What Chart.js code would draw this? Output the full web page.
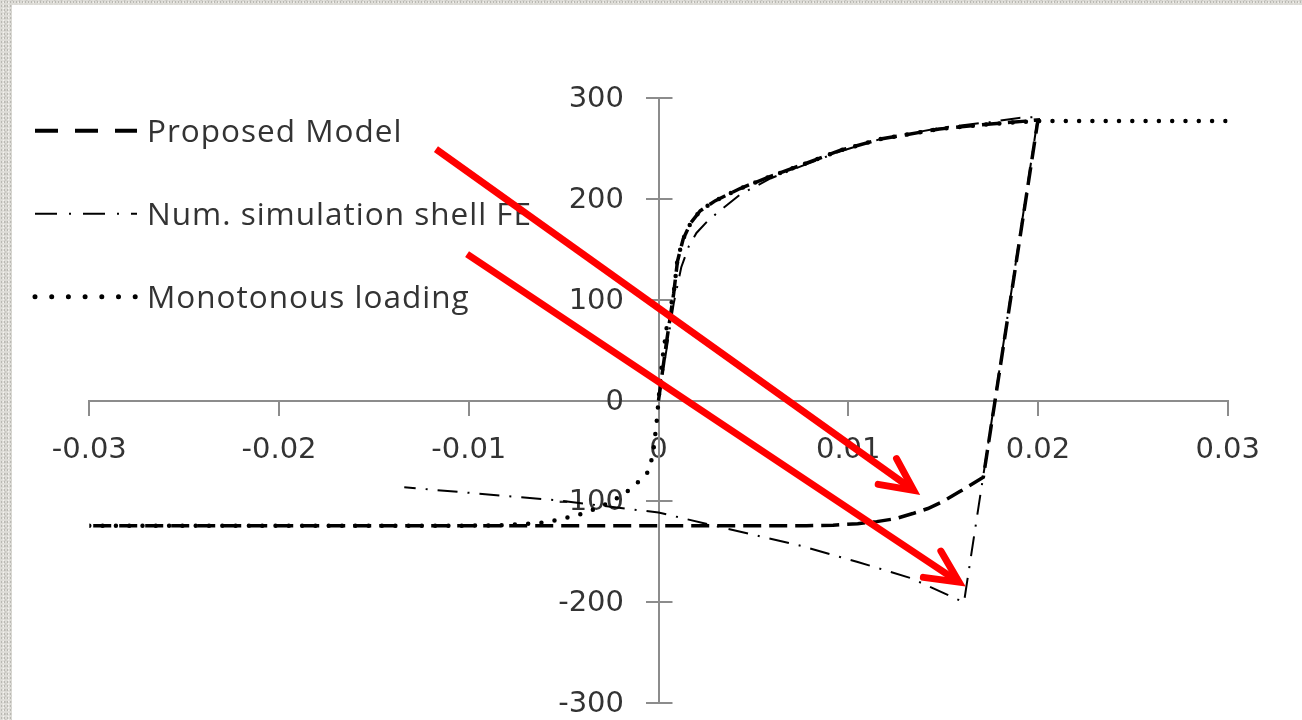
<!DOCTYPE html>
<html>
<head>
<meta charset="utf-8">
<script src="https://cdn.jsdelivr.net/npm/chart.js@4/dist/chart.umd.min.js"></script>
<style>
  html, body { margin: 0; padding: 0; width: 1302px; height: 720px; overflow: hidden; }
  body {
    background-color: #dcdbd6;
    background-image:
      radial-gradient(circle, #b9b8b2 0.7px, transparent 1.1px),
      radial-gradient(circle, #f4f3ef 0.7px, transparent 1.1px),
      radial-gradient(circle, #cac9c3 0.9px, transparent 1.3px);
    background-size: 3px 4px, 5px 3px, 7px 6px;
    background-position: 0 0, 1px 1px, 2px 3px;
  }
  #panel { position: absolute; left: 12px; top: 5px; width: 1290px; height: 715px; background: #ffffff; }
  canvas { display: block; }
</style>
</head>
<body>
<div id="panel"><canvas id="chart" width="1290" height="715"></canvas></div>
<script>
// Axis ticks
const strainTicks = [-0.03, -0.02, -0.01, 0, 0.01, 0.02, 0.03];
const stressTicks = [-300, -200, -100, 0, 100, 200, 300];

// Series names
const seriesNames = ['Proposed Model', 'Num. simulation shell FE', 'Monotonous loading'];

// Proposed model: loading, elastic unloading, compression plateau
const modelStrain = [0, 0.0004, 0.0008, 0.001, 0.0013, 0.0017, 0.0022, 0.003, 0.0043, 0.0059, 0.0075, 0.0096, 0.0117, 0.0148, 0.0175, 0.0195, 0.02,
                     0.01774, 0.01712, 0.0166, 0.0159, 0.015, 0.0142, 0.0134, 0.0125, 0.0115, 0.0105, 0.0092, 0.0078, 0, -0.01, -0.02, -0.03];
const modelStress = [0, 55, 106, 138, 160, 176, 188, 198, 210, 222, 233, 248, 259, 269, 274, 277, 278,
                     0, -76, -82, -90, -100, -107, -112, -117, -120, -122, -123.5, -124, -124, -124, -124, -124];

// Shell finite element simulation
const shellStrain = [0, 0.0004, 0.0008, 0.0012, 0.0016, 0.002, 0.0026, 0.0033, 0.0043, 0.0059, 0.0075, 0.0096, 0.0117, 0.0148, 0.0175, 0.019, 0.02,
                     0.0161, 0.0133, 0.0105, 0.0075, 0, -0.0053, -0.0134];
const shellStress = [0, 48, 96, 132, 153, 166, 178, 189, 204, 220, 232, 247, 259, 270, 276, 280, 281,
                     -200, -176, -160, -144, -111, -99, -86];

// Monotonous loading curve
const monoStrain = [-0.03, -0.02, -0.01, -0.008, -0.006, -0.005, -0.004, -0.003, -0.002, -0.0013, -0.0006, -0.0003, -0.0001, 0,
                    0.0002, 0.0005, 0.0008, 0.001, 0.0013, 0.0017, 0.0022, 0.003, 0.0043, 0.0059, 0.0075, 0.0096, 0.0117, 0.0148, 0.0175, 0.02, 0.025, 0.03];
const monoStress = [-124, -124, -124, -123.5, -121, -117, -112, -105, -95, -85, -72, -55, -22, 0,
                    40, 82, 106, 140, 160, 176, 188, 198, 210, 222, 233, 248, 259, 269, 274, 277, 277, 277];

// Highlight arrows (strain, stress) from -> to
const arrowFrom = [[-0.01173, 249], [-0.01009, 145]];
const arrowTo   = [[0.01345, -89], [0.01584, -180]];

const toPoints = (xs, ys) => xs.map((x, i) => ({ x: x, y: ys[i] }));

const axisGray = '#8c8c8c';
const textGray = '#333333';
const tickFont = { family: 'DejaVu Sans', size: 29 };

// Stress axis: right half of the cross ticks and the labels left of the axis
const stressAxisDecor = {
  id: 'stressAxisDecor',
  beforeDatasetsDraw(chart) {
    const { ctx, scales: { x, y } } = chart;
    const x0 = x.getPixelForValue(0);
    ctx.save();
    ctx.strokeStyle = axisGray;
    ctx.lineWidth = 2;
    ctx.fillStyle = textGray;
    ctx.font = tickFont.size + 'px "' + tickFont.family + '"';
    ctx.textAlign = 'right';
    ctx.textBaseline = 'middle';
    y.ticks.forEach(t => {
      const py = Math.round(y.getPixelForValue(t.value));
      ctx.beginPath();
      ctx.moveTo(x0, py);
      ctx.lineTo(x0 + 14, py);
      ctx.stroke();
      ctx.fillText(y.getLabelForValue(t.value), x0 - 34.5, py + 1);
    });
    ctx.restore();
  }
};

// Legend at upper left
const sideLegend = {
  id: 'sideLegend',
  afterDraw(chart, args, opts) {
    const ctx = chart.ctx;
    ctx.save();
    chart.data.datasets.forEach((ds, i) => {
      const st = opts.samples[i];
      const ly = opts.top + i * opts.rowGap;
      ctx.strokeStyle = '#000';
      ctx.lineWidth = st.width;
      ctx.lineCap = st.cap;
      ctx.setLineDash(st.dash);
      ctx.beginPath();
      ctx.moveTo(opts.left, ly);
      ctx.lineTo(opts.left + opts.sampleLength, ly);
      ctx.stroke();
      ctx.setLineDash([]);
      ctx.fillStyle = textGray;
      ctx.font = opts.font;
      ctx.letterSpacing = opts.letterSpacing;
      ctx.textBaseline = 'alphabetic';
      ctx.textAlign = 'left';
      ctx.fillText(ds.label, opts.left + opts.sampleLength + opts.textGap, ly + opts.baselineShift);
    });
    ctx.restore();
  }
};

// Red open-head arrows
const arrows = {
  id: 'arrows',
  afterDraw(chart) {
    const { ctx, scales: { x, y } } = chart;
    ctx.save();
    ctx.strokeStyle = '#ff0000';
    ctx.lineWidth = 7;
    arrowFrom.forEach((a, i) => {
      const x0 = x.getPixelForValue(a[0]), y0 = y.getPixelForValue(a[1]);
      const x1 = x.getPixelForValue(arrowTo[i][0]), y1 = y.getPixelForValue(arrowTo[i][1]);
      const ang = Math.atan2(y1 - y0, x1 - x0);
      ctx.lineCap = 'butt';
      ctx.beginPath();
      ctx.moveTo(x0, y0);
      ctx.lineTo(x1 - 2 * Math.cos(ang), y1 - 2 * Math.sin(ang));
      ctx.stroke();
      const L = 36, spread = 26 * Math.PI / 180;
      ctx.lineCap = 'round';
      ctx.lineJoin = 'miter';
      ctx.beginPath();
      ctx.moveTo(x1 - L * Math.cos(ang - spread), y1 - L * Math.sin(ang - spread));
      ctx.lineTo(x1, y1);
      ctx.lineTo(x1 - L * Math.cos(ang + spread), y1 - L * Math.sin(ang + spread));
      ctx.stroke();
    });
    ctx.restore();
  }
};

new Chart(document.getElementById('chart'), {
  type: 'scatter',
  data: {
    datasets: [
      {
        label: seriesNames[0],
        data: toPoints(modelStrain, modelStress),
        showLine: true, borderColor: '#000', borderWidth: 3.5,
        borderDash: [18, 8], pointRadius: 0, tension: 0
      },
      {
        label: seriesNames[1],
        data: toPoints(shellStrain, shellStress),
        showLine: true, borderColor: '#000', borderWidth: 2,
        borderDash: [20, 10, 2, 10], pointRadius: 0, tension: 0
      },
      {
        label: seriesNames[2],
        data: toPoints(monoStrain, monoStress),
        showLine: true, borderColor: '#000', borderWidth: 4.5,
        borderDash: [0, 13.3], borderCapStyle: 'round', pointRadius: 0, tension: 0
      }
    ]
  },
  options: {
    responsive: false,
    animation: false,
    devicePixelRatio: 1,
    layout: { padding: { left: 77.3, right: 74.3, top: 92.7, bottom: 16.7 } },
    plugins: {
      legend: { display: false },
      tooltip: { enabled: false },
      sideLegend: {
        left: 23, top: 125.7, rowGap: 83, sampleLength: 102, textGap: 10, baselineShift: 11.5,
        font: '31.5px "Open Sans"', letterSpacing: '1px',
        samples: [
          { width: 4, dash: [23, 17], cap: 'butt' },
          { width: 2, dash: [22, 12, 2, 12], cap: 'butt' },
          { width: 5, dash: [0, 16.7], cap: 'round' }
        ]
      }
    },
    scales: {
      x: {
        type: 'linear',
        min: -0.03, max: 0.03,
        position: { y: 0 },
        afterBuildTicks: s => { s.ticks = strainTicks.map(v => ({ value: v })); },
        afterFit: s => { s.height = 0; s.paddingLeft = 0; s.paddingRight = 0; },
        border: { display: true, color: axisGray, width: 2 },
        grid: { drawOnChartArea: false, color: axisGray, lineWidth: 2, tickLength: 14 },
        ticks: { font: tickFont, color: textGray, padding: 18.6, maxRotation: 0, autoSkip: false }
      },
      y: {
        type: 'linear',
        min: -300, max: 300,
        position: { x: 0 },
        afterBuildTicks: s => { s.ticks = stressTicks.map(v => ({ value: v })); },
        afterFit: s => { s.width = 0; s.paddingTop = 0; s.paddingBottom = 0; },
        border: { display: true, color: axisGray, width: 2 },
        grid: { drawOnChartArea: false, color: axisGray, lineWidth: 2, tickLength: 12 },
        ticks: { display: false, font: tickFont, color: textGray, autoSkip: false }
      }
    }
  },
  plugins: [stressAxisDecor, sideLegend, arrows]
});
</script>
</body>
</html>
